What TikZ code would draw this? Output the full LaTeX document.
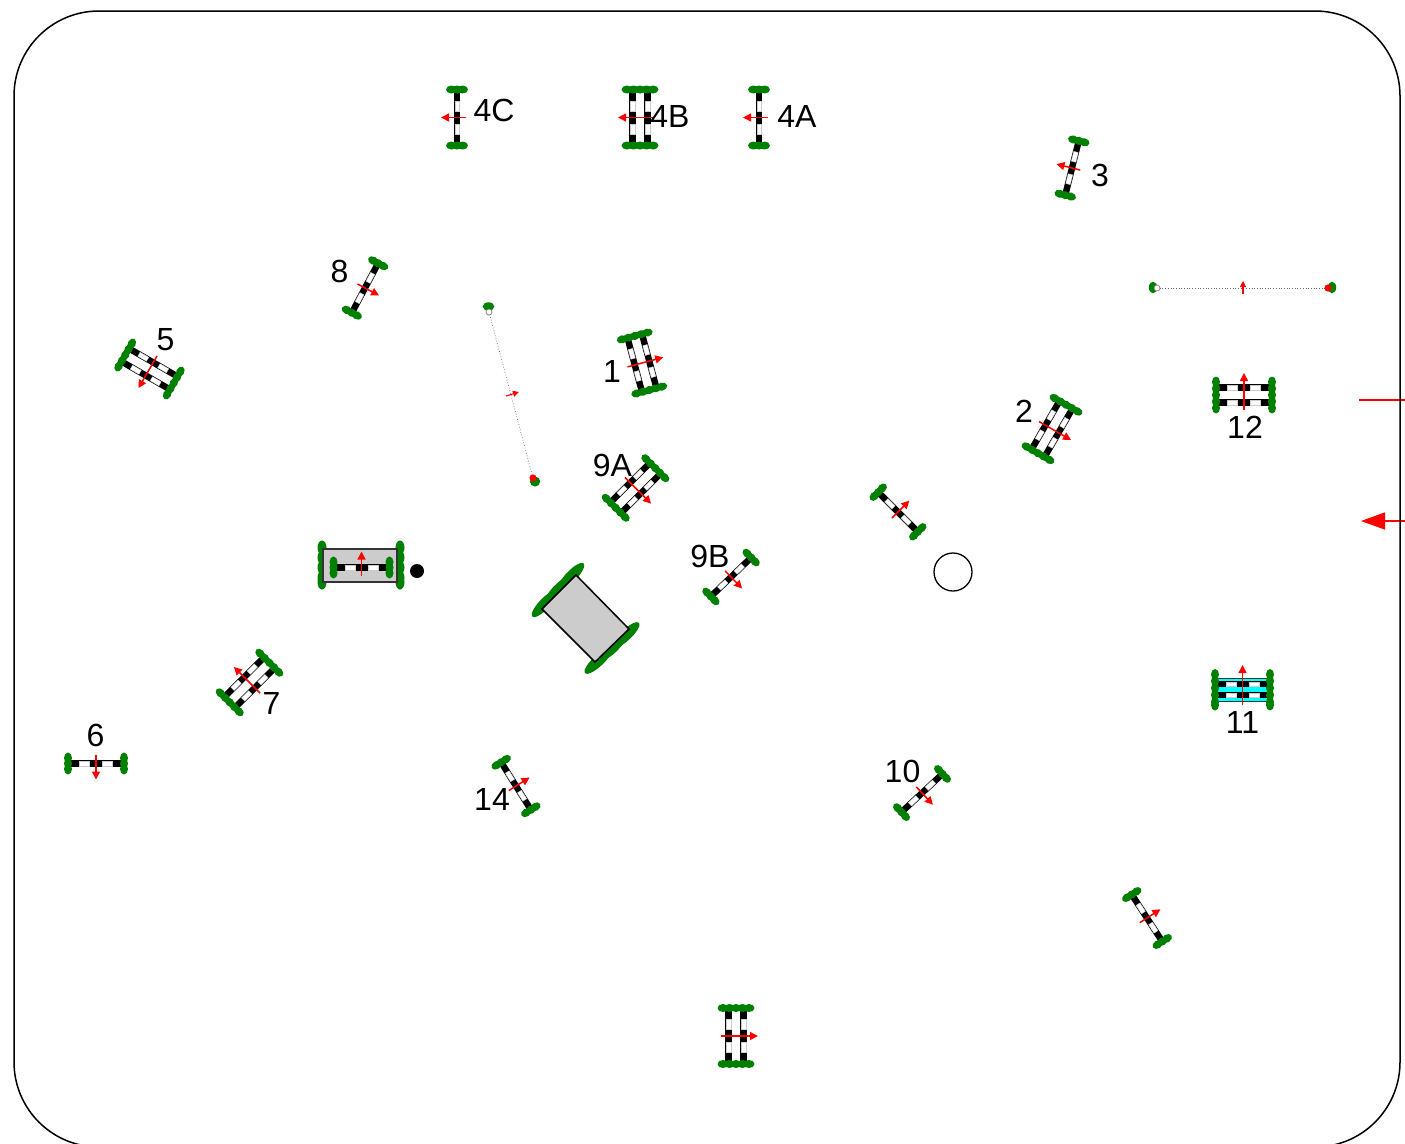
\documentclass[tikz,border=0pt]{standalone}
\usepackage{fontspec}
\setmainfont{Liberation Sans}
\usetikzlibrary{arrows.meta}
\definecolor{CRgreen}{RGB}{0,128,0}
\definecolor{CRred}{RGB}{255,0,0}
\definecolor{CRgray}{RGB}{204,204,204}
\definecolor{CRwater}{RGB}{0,255,255}
\newcommand{\railbar}[1]{
  \fill[black] (-26,#1-3.2) rectangle (26,#1+3.2);
  \filldraw[white,draw=CRgray,line width=.4pt] (-16.5,#1-2.3) rectangle (-6.5,#1+2.3);
  \filldraw[white,draw=CRgray,line width=.4pt] (6.5,#1-2.3) rectangle (16.5,#1+2.3);
}
\newcommand{\standard}[2]{
  \foreach \off in {#2} {
    \fill[CRgreen] (-#1,\off) ellipse[x radius=4pt,y radius=5.5pt];
    \fill[CRgreen] (#1,\off) ellipse[x radius=4pt,y radius=5.5pt];
  }
}
\tikzset{
  label/.style={font=\fontsize{32}{36}\selectfont,text=black,inner sep=0pt},
  dir/.style={-{Triangle[length=8pt,width=8pt]},line width=1.5pt,draw=CRred},
  flag/.style={-{Triangle[length=6pt,width=6pt]},line width=1.1pt,draw=CRred},
  tape/.style={dotted,line width=.7pt,draw=black!60},
  pics/singlebar/.style={code={
    \railbar{0}
    \standard{28}{-5.5,0,5.5}
    \draw[dir] (0,8.5) -- (0,-16);
  }},
  pics/oxerbar/.style={code={
    \railbar{-7.5}
    \railbar{7.5}
    \standard{28}{-13,-6.5,0,6.5,13}
    \draw[dir] (0,15) -- (0,-22);
  }},
  pics/waterbar/.style={code={
    \filldraw[CRwater,draw=black!80,line width=1pt] (-26,-10) rectangle (26,13);
    \railbar{-4}
    \railbar{7}
    \standard{27.5}{-13.5,-7,0,7,14,17}
    \draw[dir] (0,17) -- (0,-23);
  }},
  pics/wallbar/.style={code={
    \foreach \off in {-20,-10,0,10,15} {
      \fill[CRgreen] (-39.5,\off) ellipse[x radius=4.5pt,y radius=7pt];
      \fill[CRgreen] (38.5,\off) ellipse[x radius=4.5pt,y radius=7pt];
    }
    \filldraw[CRgray,draw=black!80,line width=1.4pt] (-38.5,-18.5) rectangle (35.5,14.5);
    \railbar{0}
    \standard{28}{-5.5,0,5.5}
    \draw[dir] (0,8.5) -- (0,-16);
  }},
}
\begin{document}
\begin{tikzpicture}[x=1pt,y=-1pt]
  \useasboundingbox (0,0) rectangle (1405,1143);
  % in and out
  \coordinate (startA) at (1405,400);
  \coordinate (startB) at (1359,400);
  \coordinate (finA) at (1405,521);
  \coordinate (finB) at (1361,521);
  \draw[CRred,line width=1.4pt] (startA) -- (startB);
  \draw[CRred,line width=1.4pt,-{Triangle[length=24pt,width=17pt]}] (finA) -- (finB);
  \draw[black,line width=1.5pt,rounded corners=85pt] (14,11) rectangle (1400,1147);

  \pic[rotate=90] (j4c) at (457,117.5) {singlebar};
  \pic[rotate=90] (j4b) at (640,117.5) {oxerbar};
  \pic[rotate=90] (j4a) at (759,117.5) {singlebar};
  \pic[rotate=76] (j3) at (1072,168) {singlebar};
  \pic[rotate=-118] (j8) at (365,288) {singlebar};
  \pic[rotate=150] (j5) at (149.5,369) {oxerbar};
  \pic[rotate=-75] (j1) at (642,363) {oxerbar};
  \pic[rotate=-120] (j2) at (1052,429) {oxerbar};
  \pic[rotate=0] (j12) at (1244,395) {oxerbar};
  \pic[rotate=-135] (j9a) at (635.5,488) {oxerbar};
  \pic[rotate=-136] (j9b) at (731,577) {singlebar};
  \pic[rotate=-45] (j13) at (898,512) {singlebar};
  \pic[rotate=0] (j15) at (361.5,567.5) {wallbar};
  \pic[rotate=45] (j7) at (249.5,682.5) {oxerbar};
  \pic[rotate=180] (j6) at (96,763.5) {singlebar};
  \pic[rotate=-58] (j14) at (516,786) {singlebar};
  \pic[rotate=-137] (j10) at (922,793) {singlebar};
  \pic[rotate=0] (j11) at (1242.5,688) {waterbar};
  \pic[rotate=-57] (j16) at (1147,918) {singlebar};
  \pic[rotate=-90] (j17) at (736,1036) {oxerbar};

  % gates
  \coordinate (gateAa) at (1157,288);
  \coordinate (gateAb) at (1328,288);
  \fill[CRgreen] (1153,287.5) ellipse[x radius=4.2pt,y radius=5.8pt] (1332,287.5) ellipse[x radius=4.2pt,y radius=5.8pt];
  \draw[tape] (gateAa) -- (gateAb);
  \filldraw[white,draw=gray,line width=.7pt] (gateAa) circle[radius=3pt];
  \fill[CRred] (gateAb) circle[radius=3.6pt];
  \draw[flag] (1243,294) -- (1243,281);
  \coordinate (gateBa) at (489,312);
  \coordinate (gateBb) at (533,478);
  \fill[CRgreen] (488.5,306.5) ellipse[x radius=5.8pt,y radius=4.2pt] (535,481.5) ellipse[x radius=5.2pt,y radius=5pt];
  \draw[tape] (gateBa) -- (gateBb);
  \filldraw[white,draw=gray,line width=.7pt] (gateBa) circle[radius=3pt];
  \fill[CRred] (gateBb) circle[radius=3.6pt];
  \draw[flag] (506,396) -- (519,392);

  % ramp, ball and circle
  \foreach \off in {-19,0,19} {
    \fill[CRgreen,shift={(558,590)},rotate=46] (\off,0) ellipse[x radius=18pt,y radius=5.5pt];
    \fill[CRgreen,shift={(612,648)},rotate=43] (\off,0) ellipse[x radius=18pt,y radius=5.5pt];
  }
  \filldraw[CRgray,draw=black,line width=1.5pt] (576,575) -- (542,609) -- (595,662) -- (629,629) -- cycle;
  \fill[black] (417,571) circle[radius=7pt];
  \draw[black,line width=1.3pt] (953,572) circle[radius=19pt];

  \node[label] (l4c) at (494,110) {4C};
  \node[label] (l4b) at (670,116) {4B};
  \node[label] (l4a) at (797,116) {4A};
  \node[label] (l3) at (1100,175) {3};
  \node[label] (l8) at (339.5,271) {8};
  \node[label] (l5) at (165.5,340) {5};
  \node[label] (l1) at (612,371) {1};
  \node[label] (l2) at (1024,411) {2};
  \node[label] (l12) at (1245,427) {12};
  \node[label] (l9a) at (612.5,465) {9A};
  \node[label] (l9b) at (710,556) {9B};
  \node[label] (l7) at (271.5,703) {7};
  \node[label] (l6) at (95.5,735) {6};
  \node[label] (l14) at (492,799) {14};
  \node[label] (l10) at (902.5,771) {10};
  \node[label] (l11) at (1242.5,722) {11};
\end{tikzpicture}
\end{document}
